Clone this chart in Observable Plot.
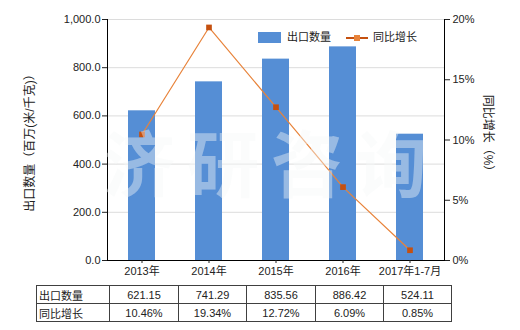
<!DOCTYPE html>
<html><head><meta charset="utf-8">
<script src="https://cdn.jsdelivr.net/npm/d3@7"></script>
<script src="https://cdn.jsdelivr.net/npm/@observablehq/plot@0.6"></script>
<style>
body{margin:0;background:#fff;font-family:"Liberation Sans","Noto Sans CJK SC",sans-serif;}
#wrap{position:relative;width:520px;height:330px;overflow:hidden;}
#wrap svg{position:absolute;left:0;top:0;}
.ov{position:absolute;color:#222;font-size:11px;white-space:nowrap;line-height:1;}
.wm{position:absolute;left:103px;top:124px;font-family:"Noto Sans CJK SC",sans-serif;font-weight:700;font-size:72px;letter-spacing:12px;color:rgba(245,247,248,0.42);pointer-events:none;line-height:1;}
table.dt{position:absolute;left:36px;top:285px;border-collapse:collapse;font-size:11px;color:#222;}
table.dt td{border:1px solid #404040;height:17px;padding:0;text-align:center;}
table.dt td.h{text-align:left;padding-left:2px;}
</style></head><body><div id="wrap"></div>
<script>
const categories = ["2013年","2014年","2015年","2016年","2017年1-7月"];
const exportQty = [621.15, 741.29, 835.56, 886.42, 524.11];
const yoyGrowth = [10.46, 19.34, 12.72, 6.09, 0.85];
const leftTicks = [0, 200, 400, 600, 800, 1000];
const rightTicks = [0, 5, 10, 15, 20];
const seriesNames = ["出口数量", "同比增长"];
const leftTitle = "出口数量（百万(米/千克)）";
const rightTitle = "同比增长（%）";
const watermark = "济研咨询";

const leftMax = 1000, rightMax = 20, k = leftMax / rightMax;
const data = categories.map((c, i) => ({cat: c, qty: exportQty[i], pct: yoyGrowth[i]}));

const barColor = "#558ED5", lineColor = "#E8833A", markColor = "#C5500F";

const chart = Plot.plot({
  width: 520, height: 330,
  marginTop: 19, marginBottom: 70, marginLeft: 107, marginRight: 76,
  style: {fontFamily: '"Liberation Sans","Noto Sans CJK SC",sans-serif', fontSize: "11px", color: "#222", background: "transparent"},
  x: {type: "band", domain: categories, paddingInner: 0.6, paddingOuter: 0.3},
  y: {domain: [0, leftMax]},
  marks: [
    Plot.ruleY(leftTicks.slice(1), {stroke: "#dcdcdc"}),
    Plot.barY(data, {x: "cat", y: "qty", fill: barColor}),
    Plot.line(data, {x: "cat", y: d => d.pct * k, stroke: lineColor, strokeWidth: 1.2}),
    Plot.dot(data, {x: "cat", y: d => d.pct * k, symbol: "square", r: 3.2, fill: markColor, stroke: "none"}),
    Plot.ruleY([0], {stroke: "#000"}),
    Plot.frame({anchor: "left", stroke: "#000"}),
    Plot.frame({anchor: "right", stroke: "#000"}),
    Plot.axisY({ticks: leftTicks, tickFormat: d3.format(",.1f"), tickSize: 5, tickPadding: 2, label: null}),
    Plot.axisY({anchor: "right", ticks: rightTicks.map(t => t * k), tickFormat: d => (d / k) + "%", tickSize: 5, tickPadding: 3, label: null}),
    Plot.axisX({tickSize: 3, tickPadding: 4, label: null})
  ]
});
const wrap = document.getElementById("wrap");
wrap.appendChild(chart);

// watermark
const wm = document.createElement("div");
wm.className = "wm"; wm.textContent = watermark;
wrap.appendChild(wm);

// legend
const leg = document.createElement("div");
leg.innerHTML = `
<div style="position:absolute;left:258px;top:32px;width:23px;height:11px;background:${barColor}"></div>
<div class="ov" style="left:287px;top:32px;">${seriesNames[0]}</div>
<div style="position:absolute;left:346px;top:37px;width:22px;height:2px;background:${markColor}"></div>
<div style="position:absolute;left:354px;top:35px;width:6px;height:6px;background:${lineColor}"></div>
<div class="ov" style="left:373px;top:32px;">${seriesNames[1]}</div>`;
wrap.appendChild(leg);

// axis titles
const lt = document.createElement("div");
lt.className = "ov"; lt.textContent = leftTitle;
lt.style.cssText += "left:30px;top:140px;transform:translate(-50%,-50%) rotate(-90deg);font-size:12px;";
wrap.appendChild(lt);
const rt = document.createElement("div");
rt.className = "ov"; rt.textContent = rightTitle;
rt.style.cssText += "left:488px;top:136px;transform:translate(-50%,-50%) rotate(90deg);font-size:12px;";
wrap.appendChild(rt);

// data table
const tbl = document.createElement("table");
tbl.className = "dt";
const colW = [70, 68, 67, 68, 67, 67];
const rows = [
  [seriesNames[0], ...exportQty.map(v => v.toFixed(2))],
  [seriesNames[1], ...yoyGrowth.map(v => v.toFixed(2) + "%")]
];
rows.forEach(r => {
  const tr = document.createElement("tr");
  r.forEach((v, i) => {
    const td = document.createElement("td");
    td.textContent = v; td.style.width = colW[i] + "px";
    if (i === 0) td.className = "h";
    tr.appendChild(td);
  });
  tbl.appendChild(tr);
});
wrap.appendChild(tbl);
</script></body></html>
